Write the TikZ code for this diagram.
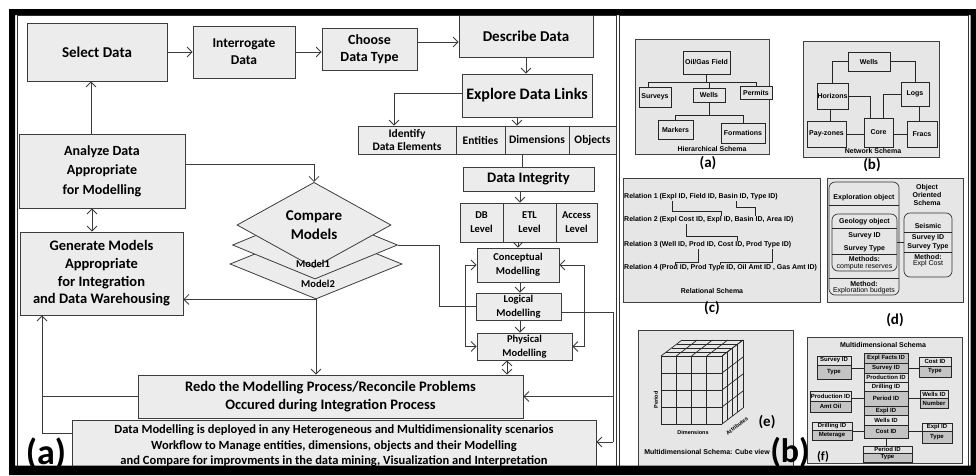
\documentclass[tikz,border=0pt]{standalone}
\usepackage{fontspec}
\setmainfont{Carlito}
\newfontfamily\arl{Liberation Sans}
\usetikzlibrary{arrows.meta,shapes.geometric,calc}
\definecolor{boxgray}{HTML}{ECECEC}
\definecolor{pgray}{HTML}{E6E6E6}
\definecolor{lgray}{HTML}{3C3C3C}
\definecolor{cdark}{HTML}{C4C4C4}
\definecolor{clight}{HTML}{E2E2E2}
\newcommand{\bx}[7][]{\node[#1,minimum width={(#5-#3)*1pt},minimum height={(#6-#4)*1pt}] (#2) at ({(#3+#5)/2},{(#4+#6)/2}) {#7};}
\begin{document}
\begin{tikzpicture}[x=1pt,y=-1pt,
 box/.style={draw=lgray,fill=boxgray,line width=0.8pt,align=center,inner sep=0.5pt,font=\bfseries\fontsize{14}{19}\selectfont},
 rowf/.style={font=\bfseries\fontsize{11.5}{13}\selectfont},
 lvf/.style={font=\bfseries\fontsize{10.5}{14}\selectfont},
 mf/.style={font=\bfseries\fontsize{10.5}{14}\selectfont},
 conn/.style={draw=lgray,line width=0.8pt},
 arr/.style={conn,-{Straight Barb[length=5pt,width=10pt]}},
 darr/.style={conn,{Straight Barb[length=5pt,width=10pt]}-{Straight Barb[length=5pt,width=10pt]}},
 sbox/.style={draw=black!85,fill=pgray,line width=0.7pt,align=center,inner sep=0pt,font=\arl\bfseries\fontsize{7}{8}\selectfont},
 obox/.style={draw=black!80,fill=pgray,line width=0.7pt,rounded corners=6pt,inner sep=0pt},
 fbox/.style={draw=black!85,fill=clight,line width=0.6pt,align=center,inner sep=0pt,font=\arl\bfseries\fontsize{6}{6.5}\selectfont},
 spanel/.style={draw=black!75,fill=pgray,line width=0.9pt},
 stxt/.style={font=\arl\bfseries\fontsize{7}{8}\selectfont,inner sep=0pt,align=center},
 rtxt/.style={font=\arl\fontsize{7}{8}\selectfont,inner sep=0pt},
 ctxt/.style={font=\arl\bfseries\fontsize{5.5}{6}\selectfont,inner sep=0pt},
 slab/.style={font=\bfseries\fontsize{15}{15}\selectfont,inner sep=0pt},
 sl/.style={line width=0.7pt,draw=black!85}
]
\fill[white] (0,0) rectangle (976,475);
\useasboundingbox (0,0) rectangle (976,475);

%% ---------- LEFT PANEL ----------
\bx[box,font=\bfseries\fontsize{15}{17}\selectfont]{sel}{27}{23}{167}{81}{Select Data}
\bx[box,font=\bfseries\fontsize{13.5}{17}\selectfont]{int}{193}{26}{295}{78}{Interrogate\\Data}
\bx[box,font=\bfseries\fontsize{14}{17}\selectfont]{cdt}{322}{28}{417}{70}{Choose\\Data Type}
\bx[box,font=\bfseries\fontsize{15}{17}\selectfont]{des}{459}{15}{593}{57}{Describe Data}
\bx[box,font=\bfseries\fontsize{16}{18}\selectfont]{exp}{462}{74}{592}{117}{Explore Data Links}
\bx[box,rowf]{idn}{358}{126}{456}{154}{Identify\\Data Elements}
\bx[box,rowf]{ent}{456}{126}{505}{154}{Entities}
\bx[box,rowf]{dim}{505}{126}{569}{154}{Dimensions}
\bx[box,rowf]{obj}{569}{126}{616}{154}{Objects}
\bx[box,font=\bfseries\fontsize{14.5}{17}\selectfont]{dint}{463}{167}{594}{191}{Data Integrity}
\bx[box,lvf]{dbl}{460}{203}{503}{242}{DB\\Level}
\bx[box,lvf]{etl}{503}{203}{556}{242}{ETL\\Level}
\bx[box,lvf]{acc}{556}{203}{597}{242}{Access\\Level}
\bx[box,mf]{con}{477}{248}{559}{282}{Conceptual\\Modelling}
\bx[box,mf]{log}{476}{293}{561}{320}{Logical\\Modelling}
\bx[box,mf]{phy}{477}{333}{572}{360}{Physical\\Modelling}
\bx[box,font=\bfseries\fontsize{14.5}{18}\selectfont]{redo}{138}{375}{523}{418}{Redo the Modelling Process/Reconcile Problems\\Occured during Integration Process}
\bx[box,font=\bfseries\fontsize{12.5}{15.5}\selectfont]{dm}{72}{420}{596}{472}{Data Modelling is deployed in any Heterogeneous and Multidimensionality scenarios\\Workflow to Manage entities, dimensions, objects and their Modelling\\and Compare for improvments in the data mining, Visualization and Interpretation}
\bx[box,font=\bfseries\fontsize{14}{19.5}\selectfont]{ana}{19}{134}{185}{208}{Analyze Data\\Appropriate\\for Modelling}
\bx[box,font=\bfseries\fontsize{14.5}{17.7}\selectfont]{gen}{20}{232}{183}{315}{Generate Models\\Appropriate\\for Integration\\and Data Warehousing}

% stacked diamonds
\node[diamond,draw=lgray,fill=boxgray,line width=0.8pt,minimum width=172pt,minimum height=70pt,inner sep=0pt] (m2) at (316,264) {};
\node[diamond,draw=lgray,fill=boxgray,line width=0.8pt,minimum width=165pt,minimum height=68pt,inner sep=0pt] (m1) at (315,245) {};
\node[diamond,draw=lgray,fill=boxgray,line width=0.8pt,minimum width=154pt,minimum height=68pt,inner sep=0pt,align=center,font=\bfseries\fontsize{15}{19}\selectfont] (cmp) at (314,225) {Compare\\Models};
\node[font=\bfseries\fontsize{10.5}{12}\selectfont,inner sep=0pt] (m1t) at (313,264) {Model1};
\node[font=\bfseries\fontsize{10.5}{12}\selectfont,inner sep=0pt] (m2t) at (318,284) {Model2};

% helper coordinates
\coordinate (xA) at (91,0);
\coordinate (xB) at (92,0);
\coordinate (xL) at (42,0);
\coordinate (xI) at (394,0);
\coordinate (xD) at (517,0);
\coordinate (xR) at (522,0);
\coordinate (xE) at (520,0);
\coordinate (xP) at (507,0);
\coordinate (xM) at (439,0);
\coordinate (BL) at (465,0);
\coordinate (BR) at (584,0);
\coordinate (xRR) at (613,0);
\coordinate (dmin) at ([yshift=4pt]dm.east);
\coordinate (dmw) at ([yshift=13pt]dm.west);
\coordinate (logr) at ([yshift=-6pt]log.east);
\coordinate (anae) at ([yshift=7pt]ana.east);

% connectors
\draw[arr] (sel.east) -- (sel.east -| int.west);
\draw[arr] (int.east) -- (int.east -| cdt.west);
\draw[arr] ([yshift=7pt]cdt.east) -- ([yshift=7pt]cdt.east -| des.west);
\draw[arr] (des.south) -- (des.south |- exp.north);
\draw[arr] ([yshift=2pt]exp.west) -| (xI |- idn.north);
\draw[arr] (xD |- exp.south) -- (xD |- dim.north);
\draw[conn] (xR |- dim.south) -- (xR |- dint.north);
\draw[arr] (xE |- dint.south) -- (xE |- etl.north);
\draw[arr] (con.north |- etl.south) -- (con.north);
\draw[arr] (xE |- con.south) -- (xE |- log.north);
\draw[arr] (xE |- log.south) -- (xE |- phy.north);
\draw[darr] (xP |- phy.south) -- (xP |- redo.north);
% left bracket
\draw[conn] (BL |- con.west) -- (BL |- phy.west);
\draw[arr] (BL |- con.west) -- (con.west);
\draw[arr] (BL |- phy.west) -- (phy.west);
\draw[conn] (m1.east) -| (xM |- log.west) -- (log.west);
% right bracket
\draw[conn] (BR |- con.east) -- (BR |- phy.east);
\draw[arr] (BR |- con.east) -- (con.east);
\draw[arr] (BR |- phy.east) -- (phy.east);
\draw[conn] (logr) -- (xRR |- logr) -- (xRR |- dmin);
\draw[arr] (xRR |- dmin) -- (dmin);
\draw[arr] (xRR |- redo.east) -- (redo.east);
% left side
\draw[arr] (xA |- ana.north) -- (xA |- sel.south);
\draw[darr] (xB |- ana.south) -- (xB |- gen.north);
\draw[arr] (anae) -| (cmp.north);
\draw[arr] (m2.south) -- (m2.south -| gen.east);
\draw[arr] (m2.south) -- (m2.south |- redo.north);
\draw[arr] (redo.west) -| (xL |- gen.south);
\draw[conn] (dmw) -| (xL |- redo.west);

\node[font=\bfseries\fontsize{36}{36}\selectfont,inner sep=0pt] (biga) at (46,454) {(a)};

%% ---------- RIGHT PANEL ----------
% (a) hierarchical
\draw[spanel] (635,39) rectangle (769,154);
\bx[sbox]{ogf}{683}{51}{730}{74}{Oil/Gas Field}
\bx[sbox]{sur}{639}{87}{671}{107}{Surveys}
\bx[sbox]{wel}{693}{88}{725}{102}{Wells}
\bx[sbox]{per}{740}{86}{772}{99}{Permits}
\bx[sbox]{mar}{658}{120}{693}{139}{Markers}
\bx[sbox]{fmt}{721}{123}{765}{143}{Formations}
\coordinate (h1) at (0,82);
\coordinate (h2) at (0,115);
\draw[sl] (ogf.south) -- (ogf.south |- h1);
\draw[sl] ([xshift=-7pt]sur.north) |- (h1 -| per.north) -- (per.north);
\draw[sl] (wel.north) -- (wel.north |- h1);
\draw[sl] (wel.south) -- (wel.south |- h2);
\draw[sl] (mar.north) |- (h2 -| fmt.north) -- (fmt.north);
\node[stxt] (hs) at (712,149) {Hierarchical Schema};
\node[slab] (la) at (708,163) {(a)};

% (b) network
\draw[spanel] (803,41) rectangle (939,157);
\bx[sbox]{nwe}{848}{52}{890}{71}{Wells}
\bx[sbox]{hor}{817}{83}{848}{109}{Horizons}
\bx[sbox]{lgs}{901}{82}{929}{106}{Logs}
\bx[sbox]{pay}{807}{121}{846}{147}{Pay-zones}
\bx[sbox]{cor}{864}{118}{893}{147}{Core}
\bx[sbox]{fra}{907}{121}{937}{147}{Fracs}
\draw[sl] (nwe.west) -| (hor.north);
\draw[sl] (nwe.east) -| (lgs.north);
\draw[sl] (hor.east) -| ([xshift=-8pt]cor.north);
\draw[sl] (lgs.west) -| ([xshift=5pt]cor.north);
\draw[sl] ([xshift=-2pt]hor.south) -- ([xshift=-2pt]hor.south |- pay.north);
\draw[sl] ([xshift=4pt]lgs.south) -- ([xshift=4pt]lgs.south |- fra.north);
\draw[sl] (pay.east) -- (pay.east -| cor.west);
\draw[sl] (pay.east -| cor.east) -- (pay.east -| fra.west);
\node[stxt] (ns) at (873,151) {Network Schema};
\node[slab] (lb) at (872,165) {(b)};

% (c) relational
\draw[spanel] (623,178) rectangle (820,302);
\node[stxt,anchor=west] (r1) at (624,197) {Relation 1 (Expl ID, Field ID, Basin ID, Type ID)};
\node[stxt,anchor=west] (r2) at (624,220) {Relation 2 (Expl Cost ID, Expl ID, Basin ID, Area ID)};
\node[stxt,anchor=west] (r3) at (624,245) {Relation 3 (Well ID, Prod ID, Cost ID, Prod Type ID)};
\node[stxt,anchor=west] (r4) at (624,268) {Relation 4 (Prod ID, Prod Type ID, Oil Amt ID , Gas Amt ID)};
\draw[sl] (672,201) -- (672,211) -- (721,211) -- (721,216);
\draw[sl] (736,201) -- (736,207) -- (755,207) -- (755,216);
\draw[sl] (686,224) -- (686,236) -- (737,236) -- (737,241);
\draw[sl] (698,249) -- (698,262) -- (675,262) -- (675,265);
\draw[sl] (772,249) -- (772,262) -- (720,262) -- (720,265);
\node[stxt] (rs) at (712,291) {Relational Schema};
\node[slab] (lc) at (712,308) {(c)};

% (d) object oriented
\draw[spanel] (827,178) rectangle (963,302);
\bx[obox]{eo}{829}{182}{899}{295}{}
\draw[sl] (829,205) -- (899,205);
\draw[sl] (829,278) -- (899,278);
\node[stxt] at (864,198) {Exploration object};
\bx[obox]{geo}{832}{214}{897}{271}{}
\draw[sl] (832,228) -- (897,228);
\draw[sl] (832,254) -- (897,254);
\node[stxt] at (864.5,222) {Geology object};
\node[stxt] at (864.5,236) {Survey ID};
\node[stxt] at (864.5,249) {Survey Type};
\node[stxt] at (864.5,259) {Methods:};
\node[rtxt] at (864.5,267) {compute reserves};
\node[stxt] at (864,284) {Method:};
\node[rtxt] at (864,291) {Exploration budgets};
\bx[obox]{sei}{904}{213}{952}{277}{}
\draw[sl] (904,232) -- (952,232);
\draw[sl] (904,252) -- (952,252);
\node[stxt] at (928,226) {Seismic};
\node[stxt] at (928,238) {Survey ID};
\node[stxt] at (928,247) {Survey Type};
\node[stxt] at (928,257) {Method:};
\node[rtxt] at (928,264) {Expl Cost};
\draw[sl] (geo.east) -- (geo.east -| sei.west);
\node[stxt,font=\arl\bfseries\fontsize{7}{8}\selectfont] (oos) at (927,195) {Object\\Oriented\\Schema};
\node[slab] (ld) at (895,320) {(d)};

% (e) cube
\draw[spanel] (638,330) rectangle (793,472);
\foreach \i in {0,...,4} {
  \pgfmathsetmacro\cxx{661+\i*15.25}
  \pgfmathsetmacro\cyy{356+\i*17}
  \pgfmathsetmacro\cdx{\i*5.25}
  \pgfmathsetmacro\cdy{\i*4}
  \draw[sl] (\cxx,356) -- (\cxx,424);
  \draw[sl] (\cxx,356) -- (\cxx+21,340);
  \draw[sl] (661,\cyy) -- (722,\cyy);
  \draw[sl] (722,\cyy) -- (743,\cyy-16);
  \draw[sl] (661+\cdx,356-\cdy) -- (722+\cdx,356-\cdy);
  \draw[sl] (722+\cdx,356-\cdy) -- (722+\cdx,424-\cdy);
}
\node[ctxt,rotate=90] (pe) at (656,400) {Period};
\node[ctxt] (dn) at (693,433) {Dimensions};
\node[ctxt,rotate=38] (at) at (737,426) {Attributes};
\node[slab] (le) at (767,422) {(e)};
\node[stxt] (cv) at (707,452) {Multidimensional Schema: Cube view};

% (f) multidimensional
\draw[spanel] (807,337) rectangle (962,463);
\node[stxt] (mt) at (883,345) {Multidimensional Schema};
\bx[fbox,fill=cdark]{c1}{864}{353}{908}{363}{Expl Facts ID}
\bx[fbox,fill=cdark]{c2}{864}{363}{908}{373}{Survey ID}
\bx[fbox]{c3}{864}{373}{908}{382}{Production ID}
\bx[fbox]{c4}{864}{382}{908}{391}{Drilling ID}
\bx[fbox,fill=cdark]{c5}{864}{391}{908}{406}{Period ID}
\bx[fbox,fill=cdark]{c6}{864}{406}{908}{415}{Expl ID}
\bx[fbox]{c7}{864}{415}{908}{425}{Wells ID}
\bx[fbox,fill=cdark]{c8}{864}{425}{908}{438}{Cost ID}
\bx[fbox]{s1a}{817}{356}{851}{365}{Survey ID}
\bx[fbox,fill=cdark]{s1b}{817}{365}{851}{379}{Type}
\bx[fbox]{s2a}{919}{357}{951}{366}{Cost ID}
\bx[fbox,fill=cdark]{s2b}{919}{366}{951}{377}{Type}
\bx[fbox]{s3a}{810}{391}{851}{401}{Production ID}
\bx[fbox,fill=cdark]{s3b}{810}{401}{851}{412}{Amt Oil}
\bx[fbox]{s4a}{920}{390}{948}{398}{Wells ID}
\bx[fbox,fill=cdark]{s4b}{920}{398}{948}{408}{Number}
\bx[fbox]{s5a}{812}{422}{852}{430}{Drilling ID}
\bx[fbox,fill=cdark]{s5b}{812}{430}{852}{440}{Meterage}
\bx[fbox]{s6a}{922}{423}{952}{431}{Expl ID}
\bx[fbox,fill=cdark]{s6b}{922}{431}{952}{443}{Type}
\bx[fbox]{s7a}{863}{446}{912}{453}{Period ID}
\bx[fbox,fill=cdark]{s7b}{863}{453}{912}{462}{Type}
\draw[sl] (c2.west) -- (c2.west -| s1b.east);
\draw[sl] (c2.east) -- (c2.east -| s2b.west);
\draw[sl] (c5.west) -- (c5.west -| s3b.east);
\draw[sl] (c5.east) -- (c5.east -| s4b.west);
\draw[sl] (c8.west) -- (c8.west -| s5b.east);
\draw[sl] (c8.east) -- (c8.east -| s6b.west);
\draw[sl] (c8.south) -- (c8.south |- s7a.north);
\node[font=\bfseries\fontsize{12.5}{13}\selectfont,inner sep=0pt] (lf) at (823,457) {(f)};

\node[font=\bfseries\fontsize{34}{34}\selectfont,inner sep=0pt] (bigb) at (790,452) {(b)};

%% ---------- FRAMES ----------
\draw[black!80,line width=0.9pt] (17,15) rectangle (616,466);
\draw[black!80,line width=0.9pt] (619.5,15) rectangle (968,466);
\fill[black,even odd rule] (9,9) rectangle (976,475) (15,15) rectangle (970.5,465.5);
\end{tikzpicture}
\end{document}
